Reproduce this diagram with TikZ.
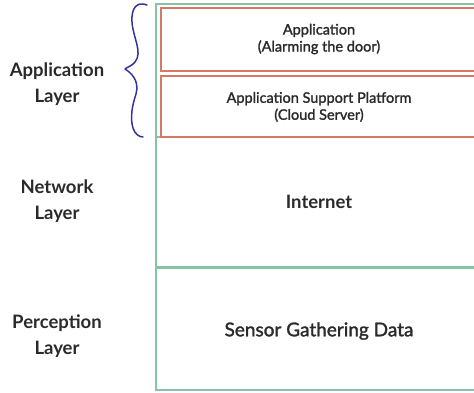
\documentclass[tikz,border=0pt]{standalone}
\usepackage{fontspec}
\setmainfont{Lato}
\newfontfamily\medfont{Lato}[FakeBold=1.6]
\definecolor{layergreen}{HTML}{86C2A4}
\definecolor{boxred}{HTML}{D27A66}
\definecolor{bracecol}{HTML}{34349A}
\definecolor{txt}{HTML}{2A2A2A}
\begin{document}
\begin{tikzpicture}[x=1pt,y=-1pt,
  layerlabel/.style={text=txt,font=\fontsize{18.5}{26}\selectfont\bfseries,align=center},
  boxtext/.style={text=txt,font=\medfont\fontsize{14.5}{17}\selectfont,align=center},
  bigtext/.style={text=txt,font=\medfont\fontsize{19}{22}\selectfont},
  greenline/.style={draw=layergreen,line width=2pt},
  redbox/.style={draw=boxred,line width=1.6pt}]
\useasboundingbox (0,0) rectangle (474,392);
% layer frames
\draw[greenline] (480,4) -- (156,4) -- (156,390) -- (480,390);
\draw[greenline] (156,137) -- (480,137);
\draw[draw=layergreen,line width=3pt] (156,267) -- (480,267);
% application sub-boxes
\draw[redbox] (480,8) -- (161,8) -- (161,71) -- (480,71);
\draw[redbox] (480,76) -- (161,76) -- (161,137) -- (480,137);
% box texts
\node[boxtext] (app) at (319,39) {Application\\(Alarming the door)};
\node[boxtext] (asp) at (319,107) {Application Support Platform\\(Cloud Server)};
\node[bigtext,font=\fontsize{18.5}{22}\selectfont\bfseries] (net) at (319,202) {Internet};
\node[bigtext] (sens) at (319,331) {Sensor Gathering Data};
% layer labels
\node[layerlabel] (lapp) at (57,84) {Application\\Layer};
\node[layerlabel] (lnet) at (57,201) {Network\\Layer};
\node[layerlabel] (lper) at (57,336) {Perception\\Layer};
% hand-drawn brace
\draw[bracecol,line width=1.5pt,line cap=round,line join=round]
  (147,5) .. controls (137,1) and (131,8) .. (132,22)
  .. controls (133,38) and (143,52) .. (135,62)
  .. controls (132,66) and (127,67) .. (125,69)
  .. controls (130,72) and (140,80) .. (136,94)
  .. controls (132,106) and (130,118) .. (133,128)
  .. controls (135,134) and (139,137) .. (143,137);
\end{tikzpicture}
\end{document}
